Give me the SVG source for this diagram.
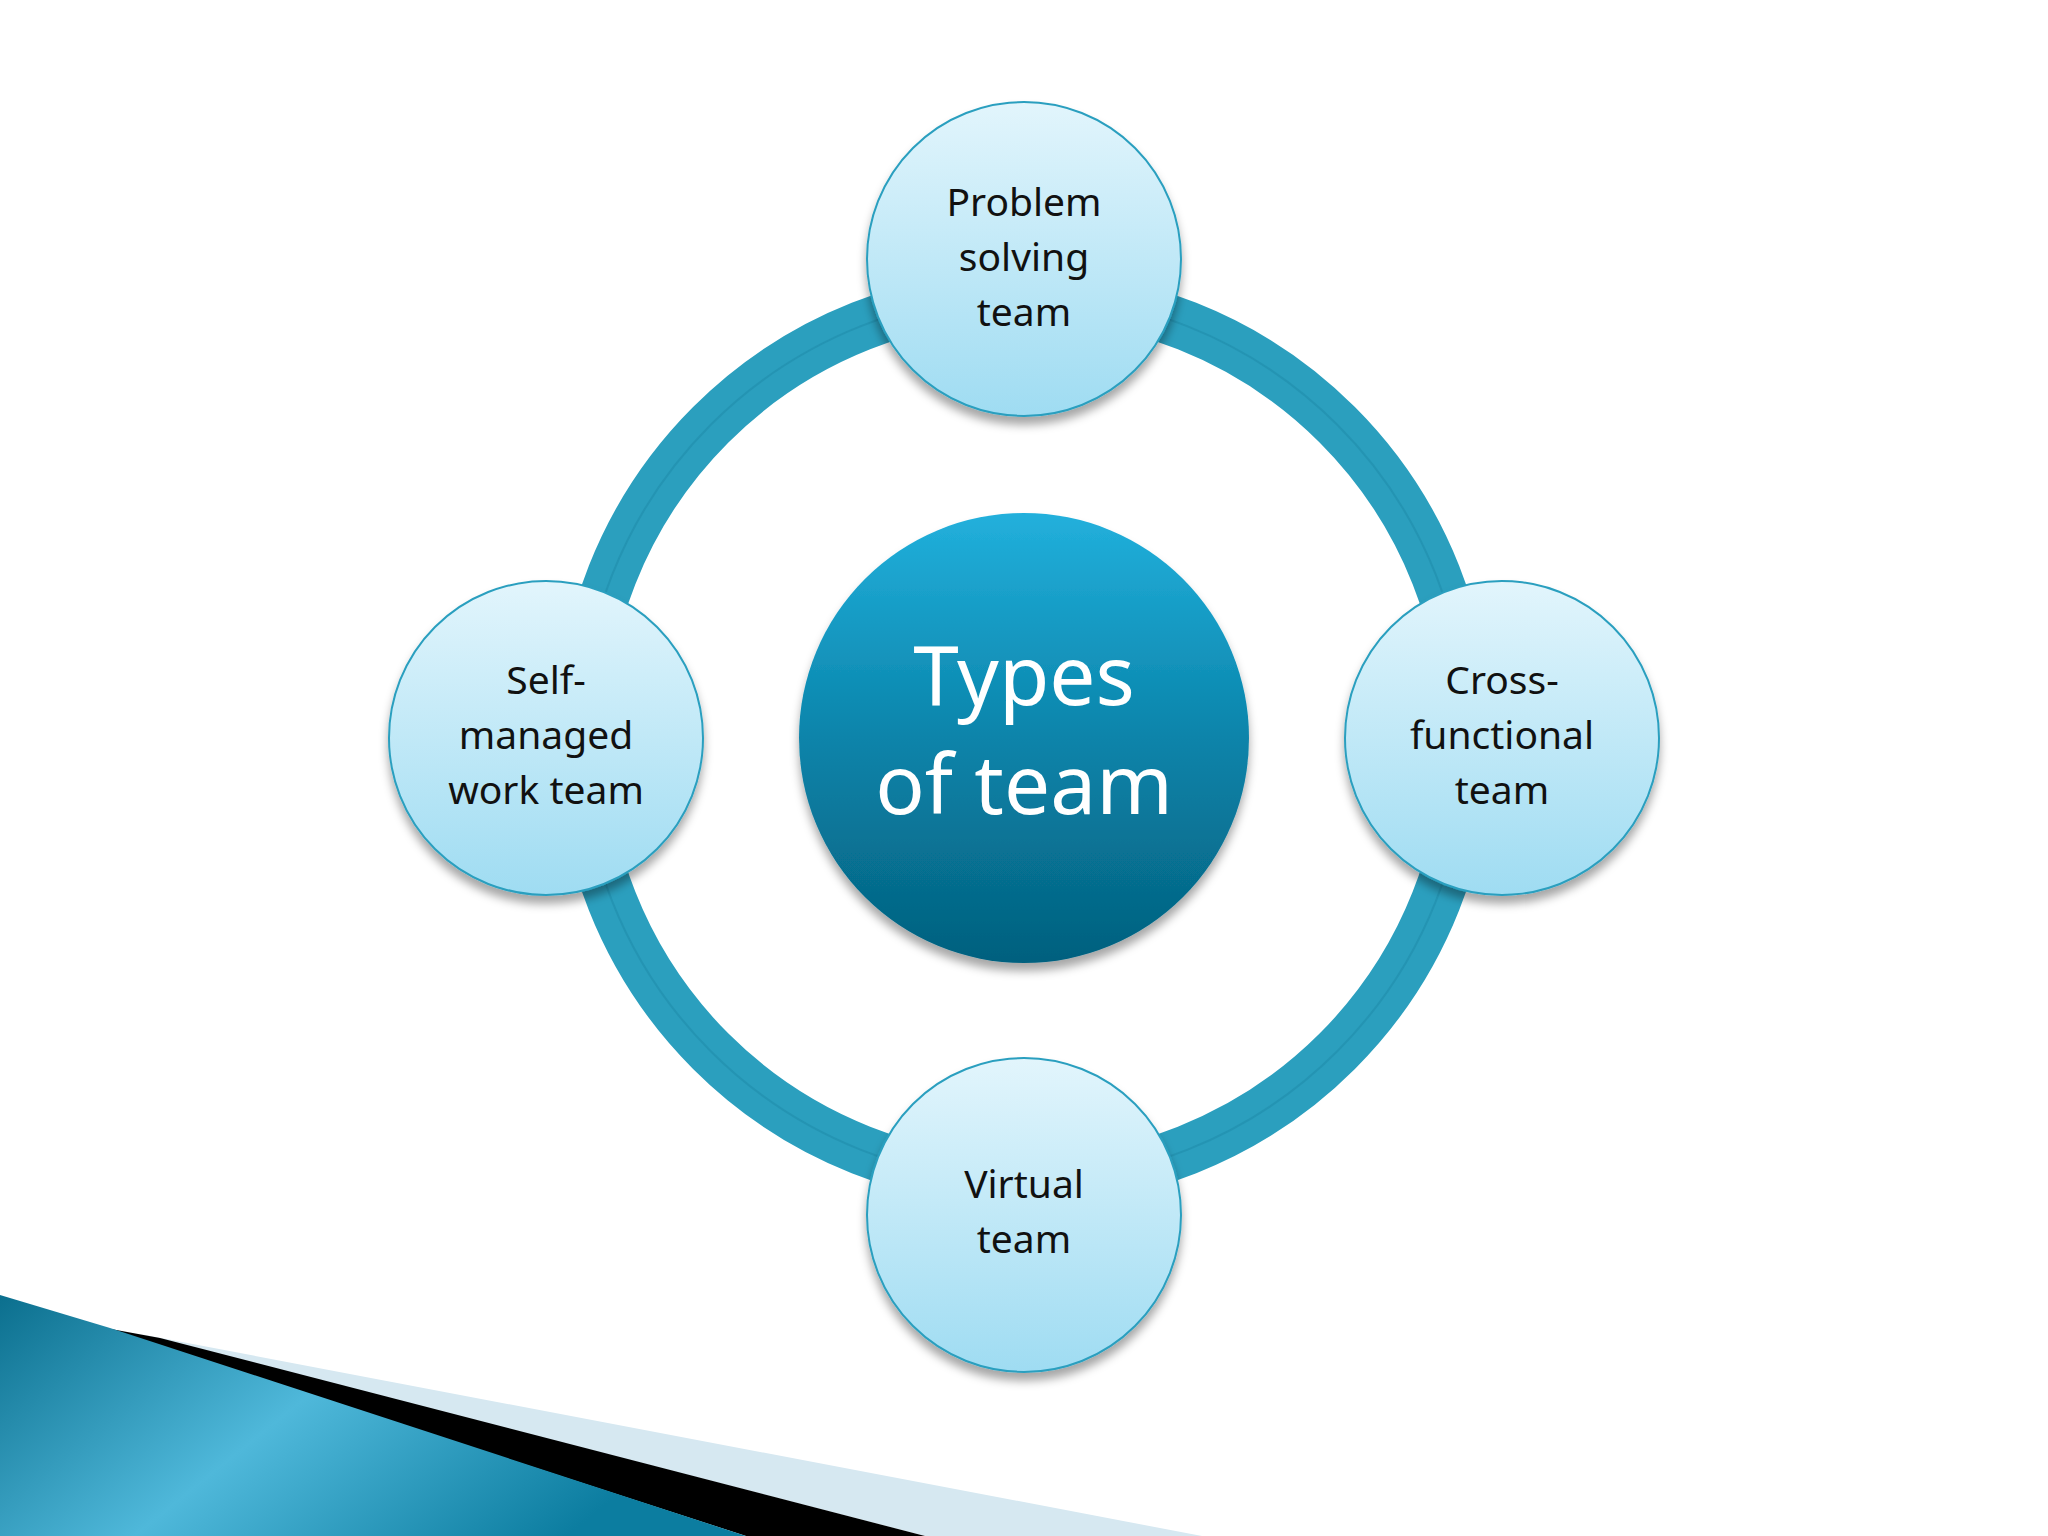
<svg xmlns="http://www.w3.org/2000/svg" width="2048" height="1536" viewBox="0 0 2048 1536">
<defs>
<linearGradient id="sat" x1="0" y1="0" x2="0" y2="1"><stop offset="0" stop-color="#e2f5fc"/><stop offset="1" stop-color="#9fdcf2"/></linearGradient>
<linearGradient id="ctr" x1="0" y1="0" x2="0" y2="1"><stop offset="0" stop-color="#22b0dc"/><stop offset="0.5" stop-color="#0a84aa"/><stop offset="1" stop-color="#04607e"/></linearGradient>
<linearGradient id="band" x1="0" y1="0" x2="1" y2="0.4"><stop offset="0" stop-color="#0b6f8e"/><stop offset="0.5" stop-color="#4fb8da"/><stop offset="1" stop-color="#0c7da0"/></linearGradient>
<filter id="sh" x="-20%" y="-20%" width="140%" height="150%"><feDropShadow dx="0" dy="8" stdDeviation="5" flood-color="#000" flood-opacity="0.35"/></filter>
<style>
.sat{fill:url(#sat);stroke:#2a9fbf;stroke-width:2;filter:url(#sh)}
.t{font-family:"Noto Sans","Open Sans",sans-serif;font-size:39px;fill:#111;text-anchor:middle}
.c{font-family:"Noto Sans","Open Sans",sans-serif;font-size:82px;fill:#fff;text-anchor:middle}
</style>
</defs>
<rect width="2048" height="1536" fill="#fff"/>
<polygon points="140,1334 1202,1536 925,1536" fill="#d6e8f1"/>
<polygon points="100,1327 160,1338 925,1536 746,1536" fill="#000"/>
<polygon points="0,1295 110,1328 746,1536 0,1536" fill="url(#band)"/>
<g id="connectors">
<circle cx="1024" cy="738" r="443" fill="none" stroke="#2b9fbe" stroke-width="50"/>
<circle cx="1024" cy="738" r="443" fill="none" stroke="#1d89a8" stroke-width="2" stroke-opacity="0.5"/>
</g>
<g id="center"><circle cx="1024" cy="738" r="225" fill="url(#ctr)" filter="url(#sh)"/>
<text class="c" x="1024" y="705">Types</text><text class="c" x="1024" y="814">of team</text></g>
<g id="problem"><circle class="sat" cx="1024" cy="259" r="157"/>
<text class="t" x="1024" y="216">Problem</text><text class="t" x="1024" y="271">solving</text><text class="t" x="1024" y="326">team</text></g>
<g id="self"><circle class="sat" cx="546" cy="738" r="157"/>
<text class="t" x="546" y="694">Self-</text><text class="t" x="546" y="749">managed</text><text class="t" x="546" y="804">work team</text></g>
<g id="cross"><circle class="sat" cx="1502" cy="738" r="157"/>
<text class="t" x="1502" y="694">Cross-</text><text class="t" x="1502" y="749">functional</text><text class="t" x="1502" y="804">team</text></g>
<g id="virtual"><circle class="sat" cx="1024" cy="1215" r="157"/>
<text class="t" x="1024" y="1198">Virtual</text><text class="t" x="1024" y="1253">team</text></g>
</svg>
